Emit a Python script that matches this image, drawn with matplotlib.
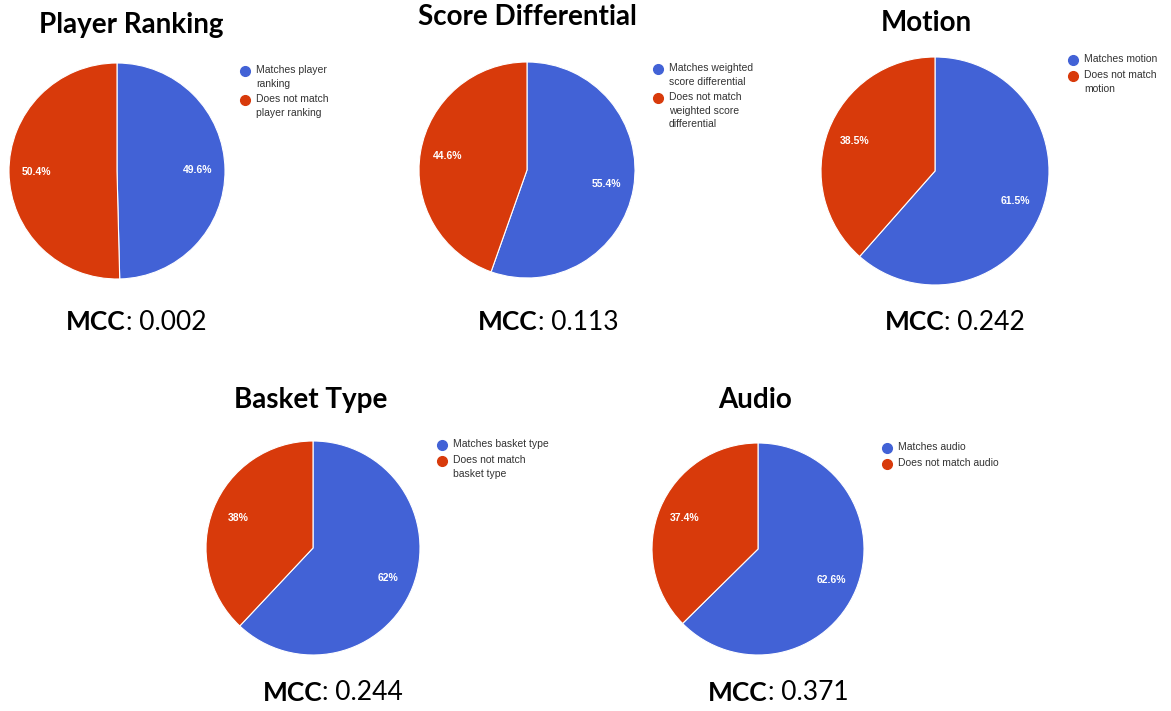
import numpy as np
import matplotlib.pyplot as plt
from matplotlib.lines import Line2D

plt.rcParams['font.family'] = ['Lato', 'DejaVu Sans']

W, H = 1171, 711
BLUE = "#4262d6"
RED = "#d83a0b"

# chart data
titles = ["Player Ranking", "Score Differential", "Motion", "Basket Type", "Audio"]
match_pct = [49.6, 55.4, 61.5, 62, 62.6]
nomatch_pct = [50.4, 44.6, 38.5, 38, 37.4]
mcc = ["0.002", "0.113", "0.242", "0.244", "0.371"]
legend_match = ["Matches player\nranking", "Matches weighted\nscore differential",
                "Matches motion", "Matches basket type", "Matches audio"]
legend_nomatch = ["Does not match\nplayer ranking", "Does not match\nweighted score\ndifferential",
                  "Does not match\nmotion", "Does not match\nbasket type", "Does not match audio"]

# layout in pixels: pie centre + radius, title, first legend marker, mcc label centre
centres = [(117, 171, 108), (527, 170, 108), (935, 171, 114), (313, 548, 107), (758, 549, 106)]
title_pos = [(131, 25), (527, 17), (926, 23), (311, 400), (755, 400)]
legend_pos = [(245, 71), (658, 69), (1073, 60), (442, 445), (887, 448)]
mcc_pos = [(136, 322), (548, 322), (955, 322), (333, 693), (778, 693)]

fig = plt.figure(figsize=(W / 100, H / 100), dpi=100)
renderer = fig.canvas.get_renderer()


def fx(x):
    return x / W


def fy(y):
    return 1 - y / H


for i in range(5):
    cx, cy, r = centres[i]
    ax = fig.add_axes([fx(cx - r), fy(cy + r), 2 * r / W, 2 * r / H])
    vals = [match_pct[i], nomatch_pct[i]]
    wedges, _ = ax.pie(vals, colors=[BLUE, RED], startangle=90, counterclock=False,
                       radius=1, wedgeprops=dict(edgecolor="white", linewidth=0.8))
    # percentage labels inside slices
    for w, v in zip(wedges, vals):
        ang = np.deg2rad((w.theta1 + w.theta2) / 2)
        ax.text(0.75 * np.cos(ang), 0.75 * np.sin(ang), f"{v:g}%", color="white",
                fontsize=7.5, fontweight="bold", ha="center", va="center",
                family="Liberation Sans")
    ax.set_xlim(-1, 1)
    ax.set_ylim(-1, 1)
    ax.set_aspect("equal")

    tx, ty = title_pos[i]
    fig.text(fx(tx), fy(ty), titles[i], fontsize=20, fontweight="bold",
             ha="center", va="center", color="black")

    # "MCC" bold + value regular, centred as one line
    mx, my = mcc_pos[i]
    t1 = fig.text(0, fy(my), "MCC", fontsize=19, fontweight="bold", ha="left", va="center")
    t2 = fig.text(0, fy(my), ": " + mcc[i], fontsize=19, ha="left", va="center")
    w1 = t1.get_window_extent(renderer).width
    w2 = t2.get_window_extent(renderer).width
    x0 = mx - (w1 + w2) / 2
    t1.set_x(fx(x0))
    t2.set_x(fx(x0 + w1))

    # legend: marker aligned with first text line, like google charts
    lx, ly = legend_pos[i]
    for label, col in [(legend_match[i], BLUE), (legend_nomatch[i], RED)]:
        fig.add_artist(Line2D([fx(lx)], [fy(ly)], marker="o", markersize=7,
                              color=col, linestyle="", transform=fig.transFigure))
        fig.text(fx(lx + 11), fy(ly - 6), label, fontsize=7.5, color="#333333",
                 family="Liberation Sans", ha="left", va="top", linespacing=1.45)
        ly += 16 + 13 * label.count("\n")

fig.savefig("out.png", dpi=100)
